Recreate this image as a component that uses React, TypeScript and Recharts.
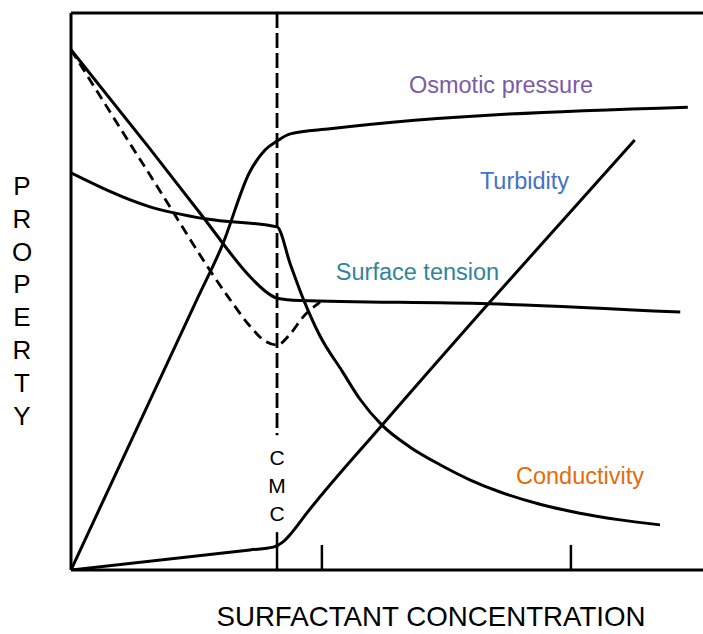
import React from "react";
import { LineChart, Line, XAxis, YAxis, ReferenceLine } from "recharts";

// Concentration (0-100, arbitrary units) and property (0-100, arbitrary units)
const surfaceTensionX = [0, 12.5, 20.4, 28.8, 30.7, 32.6, 36.2, 66.1, 96.4];
const surfaceTensionY = [93.4, 75.6, 64.1, 52.1, 50.1, 48.8, 48.4, 47.8, 46.3];

const impureTensionX = [0, 12.5, 25.2, 28.3, 30.7, 32.6, 34.7, 36.7, 39.4];
const impureTensionY = [93.4, 70.9, 48.5, 43.8, 41.1, 40.4, 42.4, 45.4, 48.1];

const conductivityX = [0, 12.5, 21.5, 32.6, 34.7, 36.7, 39.4, 42.9, 45.7, 49.2, 53.6, 58.4, 63.1, 67.9, 74.2, 80.5, 86.9, 93.2];
const conductivityY = [71.3, 65.2, 63.0, 61.6, 54.9, 48.8, 42.0, 35.7, 30.7, 26.0, 22.1, 18.9, 16.2, 14.0, 11.8, 10.2, 9.0, 8.1];

const osmoticX = [0, 19.9, 23.9, 28.3, 30.7, 32.6, 34.7, 41.0, 97.6];
const osmoticY = [0, 48.5, 58.2, 71.5, 75.4, 77.0, 78.3, 79.2, 83.1];

const turbidityX = [0, 28.3, 32.0, 33.5, 35.0, 37.3, 49.2, 66.1, 89.2];
const turbidityY = [0, 3.6, 4.1, 5.0, 6.8, 10.2, 26.0, 47.9, 77.2];

const cmcX = 32.6;
const tickXs = [39.7, 79.1];

const seriesLabels = ["Osmotic pressure", "Turbidity", "Surface tension", "Conductivity"];
const yTitle = "PROPERTY";
const xTitle = "SURFACTANT CONCENTRATION";
const cmcLabel = "CMC";

const zip = (xs: number[], ys: number[]) => xs.map((x, i) => ({ x, y: ys[i] }));

const FONT = "'Liberation Sans', Arial, sans-serif";

export default function App() {
  const lineProps = {
    type: "monotone" as const,
    dataKey: "y",
    stroke: "#000",
    strokeWidth: 3,
    dot: false,
    activeDot: false,
    isAnimationActive: false,
  };
  const labelStyle = (left: number, top: number, color: string, size: number): React.CSSProperties => ({
    position: "absolute",
    left,
    top,
    transform: "translate(-50%, -50%)",
    color,
    fontSize: size,
    lineHeight: `${size}px`,
    fontFamily: FONT,
    whiteSpace: "nowrap",
  });
  return (
    <div style={{ position: "absolute", left: 0, top: 0, width: 703, height: 634, background: "#fff" }}>
      <LineChart width={703} height={634} margin={{ top: 13, right: 0, bottom: 64, left: 71 }}>
        <XAxis type="number" dataKey="x" domain={[0, 100]} hide allowDataOverflow />
        <YAxis type="number" dataKey="y" domain={[0, 100]} hide allowDataOverflow />
        <ReferenceLine y={100} stroke="#000" strokeWidth={3} />
        <ReferenceLine y={0} stroke="#000" strokeWidth={3} />
        <ReferenceLine x={0} stroke="#000" strokeWidth={3} />
        <ReferenceLine
          segment={[{ x: cmcX, y: 100 }, { x: cmcX, y: 24.2 }]}
          stroke="#000"
          strokeWidth={2.8}
          strokeDasharray="15 5"
        />
        <ReferenceLine segment={[{ x: cmcX, y: 6.8 }, { x: cmcX, y: 0 }]} stroke="#000" strokeWidth={2.5} />
        {tickXs.map((t) => (
          <ReferenceLine key={t} segment={[{ x: t, y: 4.5 }, { x: t, y: 0 }]} stroke="#000" strokeWidth={2.5} />
        ))}
        <Line {...lineProps} data={zip(impureTensionX, impureTensionY)} strokeWidth={2.8} strokeDasharray="10 6" />
        <Line {...lineProps} data={zip(surfaceTensionX, surfaceTensionY)} />
        <Line {...lineProps} data={zip(conductivityX, conductivityY)} />
        <Line {...lineProps} data={zip(osmoticX, osmoticY)} />
        <Line {...lineProps} data={zip(turbidityX, turbidityY)} />
      </LineChart>

      <div style={labelStyle(501, 86, "#7b5aa6", 23.5)}>{seriesLabels[0]}</div>
      <div style={labelStyle(524.5, 182, "#4472c4", 23.5)}>{seriesLabels[1]}</div>
      <div style={labelStyle(417.5, 273, "#31849b", 23.5)}>{seriesLabels[2]}</div>
      <div style={labelStyle(580, 477, "#e46c0a", 23.5)}>{seriesLabels[3]}</div>

      {yTitle.split("").map((ch, i) => (
        <div key={i} style={labelStyle(22, 186 + i * 32.8, "#000", 26)}>{ch}</div>
      ))}
      {cmcLabel.split("").map((ch, i) => (
        <div key={"c" + i} style={labelStyle(277, 457 + i * 28, "#000", 21)}>{ch}</div>
      ))}
      <div style={labelStyle(431, 617, "#000", 27.7)}>{xTitle}</div>
    </div>
  );
}
